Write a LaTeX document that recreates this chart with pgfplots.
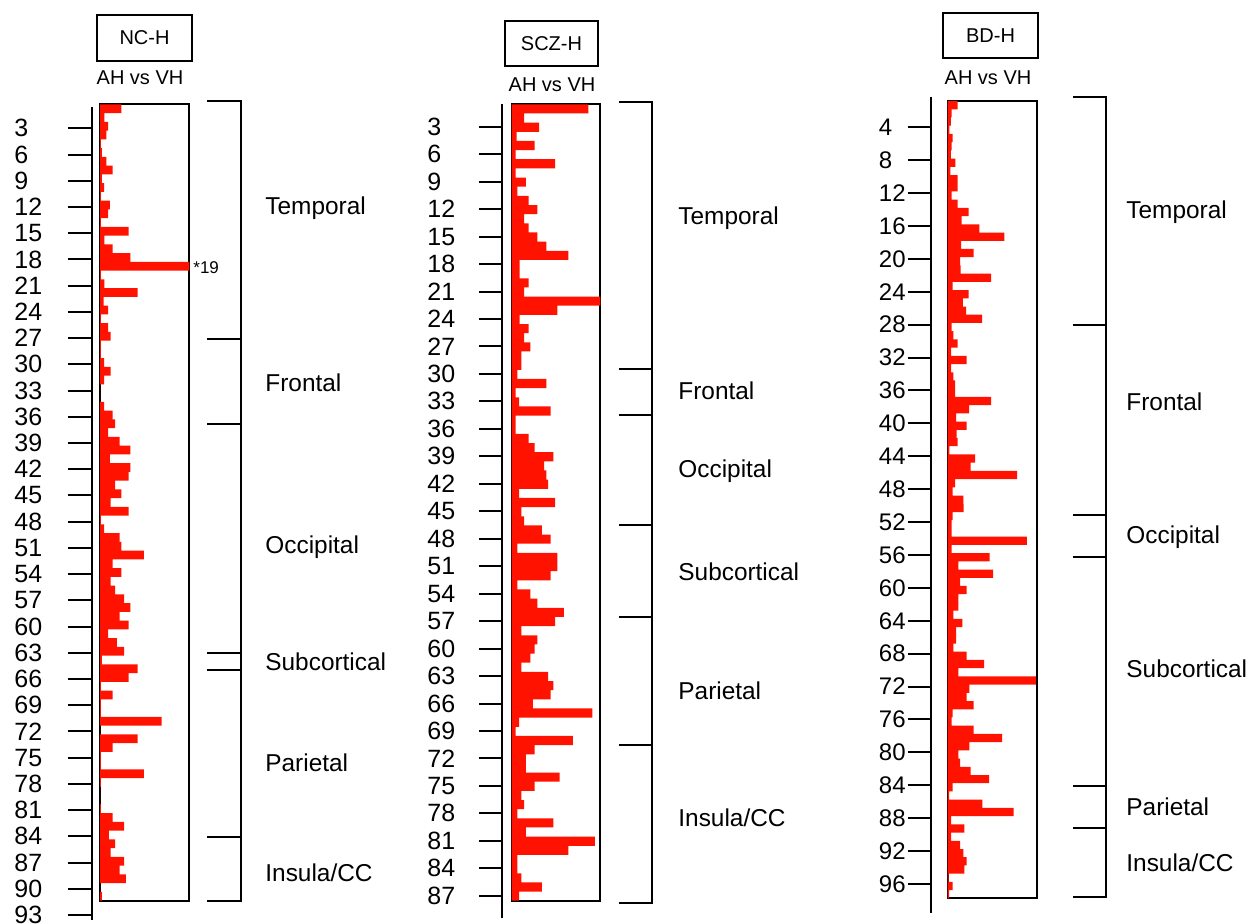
\documentclass[border=0pt]{standalone}
\usepackage{fontspec}
\setmainfont{Liberation Sans}
\usepackage{pgfplots}
\pgfplotsset{compat=1.18}
\usepackage{pgfplotstable}
\definecolor{barred}{RGB}{255,18,0}

\pgfplotstableread{
k v
1 0.24
2 0.05
3 0.09
4 0.07
5 0.01
6 0.02
7 0.07
8 0.14
9 0.02
10 0.045
11 0.01
12 0.11
13 0.09
14 0.01
15 0.32
16 0.05
17 0.14
18 0.34
19 1.0
20 0.01
21 0.05
22 0.42
23 0.04
24 0.09
25 0.01
26 0.09
27 0.12
28 0.01
29 0.01
30 0.045
31 0.12
32 0.045
33 0
34 0
35 0.045
36 0.14
37 0.17
38 0.09
39 0.22
40 0.34
41 0.11
42 0.34
43 0.32
44 0.17
45 0.24
46 0.12
47 0.32
48 0.01
49 0.045
50 0.22
51 0.24
52 0.49
53 0.14
54 0.24
55 0.12
56 0.17
57 0.27
58 0.34
59 0.22
60 0.32
61 0.09
62 0.19
63 0.27
64 0.02
65 0.42
66 0.32
67 0.01
68 0.14
69 0.01
70 0.01
71 0.69
72 0
73 0.42
74 0.14
75 0.01
76 0.01
77 0.49
78 0.01
79 0
80 0
81 0.01
82 0.14
83 0.27
84 0.10
85 0.17
86 0.12
87 0.27
88 0.22
89 0.29
90 0
91 0.02
}\ncdata

\pgfplotstableread{
k v
1 0.865
2 0.14
3 0.31
4 0.055
5 0.26
6 0.045
7 0.49
8 0.045
9 0.16
10 0.065
11 0.19
12 0.29
13 0.14
14 0.19
15 0.29
16 0.39
17 0.64
18 0.09
19 0.09
20 0.19
21 0.14
22 1.0
23 0.515
24 0.09
25 0.19
26 0.14
27 0.21
28 0.11
29 0.11
30 0.065
31 0.39
32 0.045
33 0.085
34 0.44
35 0.045
36 0.045
37 0.19
38 0.26
39 0.47
40 0.365
41 0.39
42 0.41
43 0.085
44 0.49
45 0.11
46 0.14
47 0.34
48 0.44
49 0.065
50 0.515
51 0.515
52 0.44
53 0.065
54 0.21
55 0.29
56 0.59
57 0.49
58 0.11
59 0.29
60 0.26
61 0.21
62 0.11
63 0.41
64 0.47
65 0.44
66 0.24
67 0.91
68 0.085
69 0.045
70 0.69
71 0.26
72 0.16
73 0.16
74 0.54
75 0.26
76 0.11
77 0.14
78 0.065
79 0.47
80 0.16
81 0.94
82 0.64
83 0.065
84 0.065
85 0.11
86 0.34
87 0.085
}\sczdata

\pgfplotstableread{
k v
1 0.11
2 0.045
3 0.035
4 0.02
5 0.056
6 0.045
7 0.035
8 0.086
9 0.03
10 0.11
11 0.11
12 0.045
13 0.11
14 0.236
15 0.157
16 0.356
17 0.637
18 0.15
19 0.29
20 0.14
21 0.146
22 0.487
23 0.056
24 0.236
25 0.17
26 0.206
27 0.386
28 0.045
29 0.064
30 0.11
31 0.037
32 0.213
33 0.037
34 0.064
35 0.082
36 0.082
37 0.487
38 0.24
39 0.094
40 0.213
41 0.10
42 0.11
43 0.02
44 0.307
45 0.258
46 0.78
47 0.082
48 0.056
49 0.176
50 0.18
51 0.056
52 0.045
53 0.045
54 0.89
55 0.045
56 0.47
57 0.12
58 0.51
59 0.14
60 0.213
61 0.12
62 0.12
63 0.064
64 0.165
65 0.094
66 0.094
67 0.064
68 0.213
69 0.41
70 0.12
71 0.99
72 0.243
73 0.213
74 0.29
75 0.056
76 0.045
77 0.29
78 0.61
79 0.243
80 0.12
81 0.14
82 0.258
83 0.464
84 0.056
85 0.015
86 0.39
87 0.74
88 0.037
89 0.187
90 0.037
91 0.14
92 0.176
93 0.213
94 0.187
95 0.01
96 0.056
97 0.015
}\bddata

\pgfplotsset{
  barbox/.style={scale only axis, anchor=south west, xmin=0, xmax=1,
    ymin=0.5, y dir=reverse, xtick=\empty, ytick=\empty,
    axis line style={line width=1pt}, xbar, bar width=1},
  tickax/.style={scale only axis, anchor=south west, width=1pt, xmin=0, xmax=1,
    y dir=reverse, axis x line=none, axis y line=left,
    axis line style={-, line width=1pt}, tick align=outside,
    major tick length=12pt, ytick style={line width=1pt, black},
    /pgf/number format/assume math mode=true,
    yticklabel style={font=\fontsize{12.5}{13}\selectfont, anchor=west, inner sep=0pt}},
}

\begin{document}
\begin{tikzpicture}
\path (0pt,0pt) rectangle (625.5pt,-462pt);

% ---------- Panel 1: NC-H ----------
\begin{axis}[tickax, at={(45.85pt,-460pt)}, height=406.65pt, ymin=0.53, ymax=93.58,
  ytick={3,6,...,93}, yticklabel style={xshift=-26.85pt}]
\addplot[draw=none] coordinates {(0,3)};
\end{axis}
\begin{axis}[barbox, at={(50pt,-450.35pt)}, width=44.65pt, height=398.2pt, ymax=91.5]
\addplot[fill=barred, draw=none] table[x=v, y=k] {\ncdata};
\end{axis}

% ---------- Panel 2: SCZ-H ----------
\begin{axis}[tickax, at={(251.15pt,-459pt)}, height=407pt, ymin=0.52, ymax=89.43,
  ytick={3,6,...,87}, major tick length=11.65pt, yticklabel style={xshift=-26pt}]
\addplot[draw=none] coordinates {(0,3)};
\end{axis}
\begin{axis}[barbox, at={(255.85pt,-450.35pt)}, width=44.3pt, height=398.2pt, ymax=87.5]
\addplot[fill=barred, draw=none] table[x=v, y=k] {\sczdata};
\end{axis}

% ---------- Panel 3: BD-H ----------
\begin{axis}[tickax, at={(465.35pt,-456.5pt)}, height=407.85pt, ymin=0.353, ymax=99.53,
  ytick={4,8,...,96}, major tick length=11.5pt,
  yticklabel style={xshift=-14.6pt, font=\fontsize{12}{13}\selectfont}]
\addplot[draw=none] coordinates {(0,4)};
\end{axis}
\begin{axis}[barbox, at={(473.85pt,-449.15pt)}, width=44.5pt, height=398.65pt, ymax=97.5]
\addplot[fill=barred, draw=none] table[x=v, y=k] {\bddata};
\end{axis}

\begin{scope}[x=0.5pt,y=-0.5pt]
% ---------- brackets ----------
\begin{scope}[line width=1pt]
\draw (207,100.7) -- (241,100.7) -- (241,901) -- (207,901);
\foreach \yy in {339,424.3,652.7,669.7,837} \draw (207,\yy) -- (241,\yy);
\draw (619,101.7) -- (652.3,101.7) -- (652.3,902.7) -- (619,902.7);
\foreach \yy in {369.3,415,525,617.3,745} \draw (619,\yy) -- (652.3,\yy);
\draw (1073,97) -- (1106,97) -- (1106,897) -- (1073,897);
\foreach \yy in {325,515,557,786,828} \draw (1073,\yy) -- (1106,\yy);
\end{scope}

% ---------- region labels ----------
\begin{scope}[every node/.style={anchor=west, inner sep=0pt, font=\fontsize{12.2}{13}\selectfont}]
\node at (265,208) {Temporal};
\node at (265,383) {Frontal};
\node at (265,547) {Occipital};
\node at (265,662) {Subcortical};
\node at (265,763) {Parietal};
\node at (265,873) {Insula/CC};
\node at (678,218) {Temporal};
\node at (678,391) {Frontal};
\node at (678,471) {Occipital};
\node at (678,572) {Subcortical};
\node at (678,691) {Parietal};
\node at (678,818) {Insula/CC};
\node at (1126,212) {Temporal};
\node at (1126,402) {Frontal};
\node at (1126,537) {Occipital};
\node at (1126,669) {Subcortical};
\node at (1126,807) {Parietal};
\node at (1126,863) {Insula/CC};
\end{scope}

\node[anchor=west, inner sep=0pt, font=\fontsize{8.5}{9}\selectfont] at (193,268) {*19};

% ---------- headers ----------
\begin{scope}[line width=0.8pt]
\draw (97,15) rectangle (192,61);
\draw (505,21) rectangle (598,66);
\draw (943,13) rectangle (1038,58);
\end{scope}
\begin{scope}[every node/.style={inner sep=0pt, font=\fontsize{10}{11}\selectfont}]
\node at (144.5,38) {NC-H};
\node at (551.5,43.5) {SCZ-H};
\node at (990.5,35.5) {BD-H};
\node at (140,78) {AH vs VH};
\node at (552,85) {AH vs VH};
\node at (988,78) {AH vs VH};
\end{scope}
\end{scope}
\end{tikzpicture}
\end{document}
